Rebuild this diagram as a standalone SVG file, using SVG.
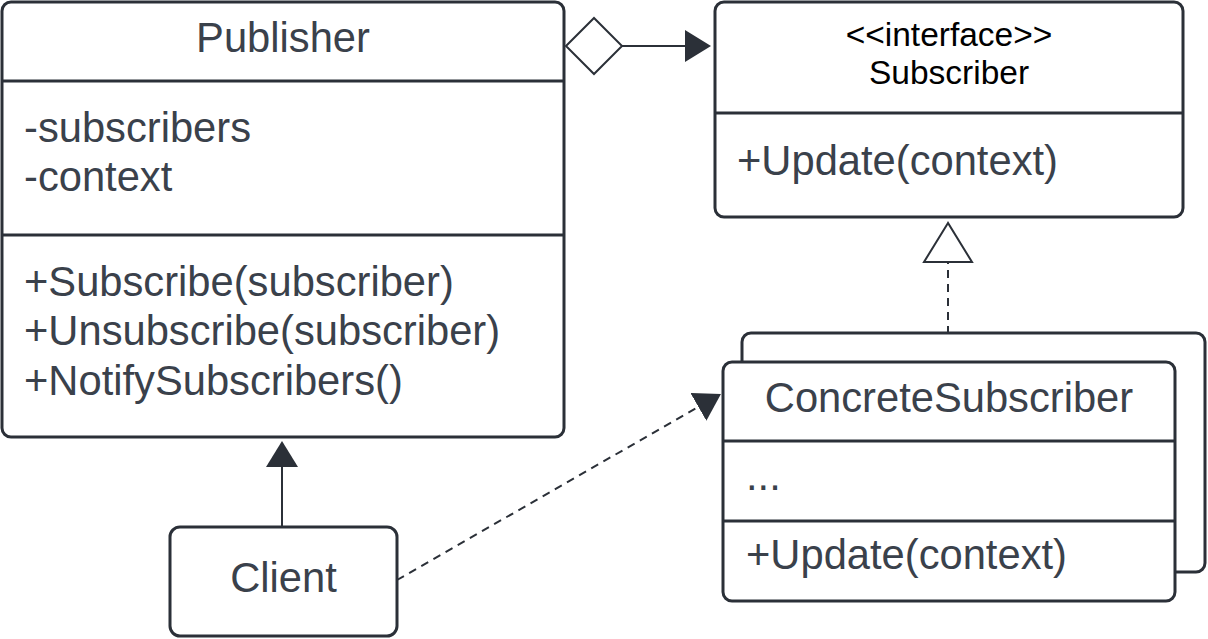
<svg xmlns="http://www.w3.org/2000/svg" width="1208" height="639" viewBox="0 0 1208 639">
<defs>
<style>
.box{fill:#ffffff;stroke:#2b3038;stroke-width:3}
.div{stroke:#2b3038;stroke-width:3}
.t{font-family:"Liberation Sans",Arial,sans-serif;font-size:41.7px;fill:#3a414b}
.c{text-anchor:middle}
.s{font-family:"Liberation Sans",Arial,sans-serif;font-size:33.5px;fill:#000000;text-anchor:middle}
.ln{fill:none;stroke:#2b3038;stroke-width:2}
.dash{stroke-dasharray:8 6}
.hollow{fill:#ffffff;stroke:#2b3038;stroke-width:2}
</style>
<marker id="arrow" markerUnits="userSpaceOnUse" markerWidth="27" markerHeight="32" refX="0" refY="16" orient="auto" viewBox="0 0 27 32">
<path d="M0,0 L26,16 L0,32 Z" fill="#2b3038"/>
</marker>
</defs>
<rect width="1208" height="639" fill="#ffffff"/>

<g id="connectors">
<polygon class="hollow" points="566,46 594,18 622,46 594,74"/>
<path class="ln" d="M622,46 L685,46" marker-end="url(#arrow)"/>
<path class="ln dash" d="M948,362 L948,262"/>
<polygon class="hollow" points="948,223 924,262 972,262"/>
<path class="ln" d="M282,527 L282,467" marker-end="url(#arrow)"/>
<path class="ln dash" d="M397,580 L698.4,406.9" marker-end="url(#arrow)"/>
</g>

<g id="publisher">
<rect class="box" x="2" y="2" width="562" height="435" rx="9"/>
<line class="div" x1="2" y1="81" x2="564" y2="81"/>
<line class="div" x1="2" y1="235" x2="564" y2="235"/>
<text class="t c" x="283" y="52">Publisher</text>
<text class="t" x="24" y="142">-subscribers</text>
<text class="t" x="24" y="191">-context</text>
<text class="t" x="24" y="296">+Subscribe(subscriber)</text>
<text class="t" x="24" y="345">+Unsubscribe(subscriber)</text>
<text class="t" x="24" y="395">+NotifySubscribers()</text>
</g>

<g id="subscriber">
<rect class="box" x="715" y="2" width="468" height="215" rx="9"/>
<line class="div" x1="715" y1="113" x2="1183" y2="113"/>
<text class="s" x="949" y="46">&lt;&lt;interface&gt;&gt;</text>
<text class="s" x="949" y="84">Subscriber</text>
<text class="t" x="737" y="175">+Update(context)</text>
</g>

<g id="concrete-subscriber">
<rect class="box" x="742" y="333" width="463" height="239" rx="9"/>
<rect class="box" x="723" y="362" width="452" height="239" rx="9"/>
<line class="div" x1="723" y1="441" x2="1175" y2="441"/>
<line class="div" x1="723" y1="521" x2="1175" y2="521"/>
<text class="t c" x="949" y="412">ConcreteSubscriber</text>
<text class="t" x="746" y="490">...</text>
<text class="t" x="746" y="569">+Update(context)</text>
</g>

<g id="client">
<rect class="box" x="170" y="527" width="227" height="109" rx="10"/>
<text class="t c" x="283.5" y="592">Client</text>
</g>
</svg>
